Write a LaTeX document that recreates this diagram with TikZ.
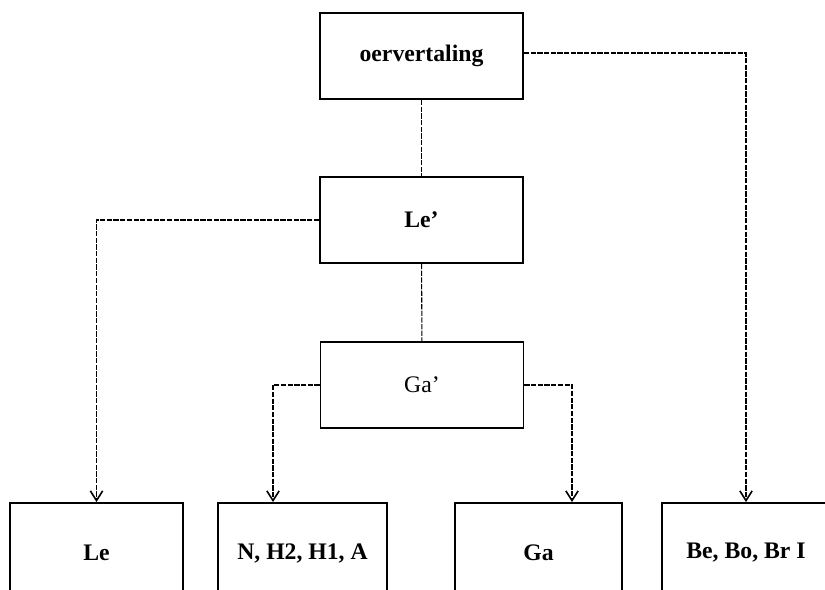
\documentclass[tikz,border=0pt]{standalone}
\usepackage{fontspec}
\setmainfont{Liberation Serif}
\usepackage{tikz}
\usetikzlibrary{arrows.meta}

\begin{document}
\begin{tikzpicture}[x=0.02cm,y=-0.02cm,
    >={Straight Barb[length=5.5pt,width=7pt,line width=0.9pt]},
    box/.style={draw,line width=1.1pt,minimum width=4.06cm,minimum height=1.72cm,
      font=\fontsize{13.5}{16}\selectfont\bfseries},
    leaf/.style={draw,line width=1.1pt,minimum height=2cm,
      font=\fontsize{13.5}{16}\selectfont\bfseries},
    link/.style={line width=0.6pt,dash pattern=on 3pt off 0.8pt}]
      \useasboundingbox (0,0) rectangle (825,590);
      \clip (0,0) rectangle (825,590);

      % upper boxes
      \node [box] (oer) at (421.5,56) {oervertaling};
      \node [box] (lep) at (421.5,220) {Le’};
      \node [box,font=\fontsize{13.5}{16}\selectfont] (gap) at (422,385) {Ga’};

      % lower boxes, cut off at the bottom edge
      \node [leaf,minimum width=3.46cm] (le) at (96.5,553) {Le};
      \node [leaf,minimum width=3.38cm] (nha) at (302.5,553) {N, H2, H1, A};
      \node [leaf,minimum width=3.34cm] (ga) at (538.5,553) {Ga};
      \node [leaf,minimum width=3.36cm] (bbb) at (746,553) {Be, Bo, Br I};

      \draw [link] (oer) -- (lep);
      \draw [link] (lep) -- (gap);
      \draw [link,->] (lep.west) -| (le.north);
      \draw [link,->] (gap.west) -| ([xshift=-0.59cm]nha.north);
      \draw [link,->] (gap.east) -| ([xshift=0.67cm]ga.north);
      \draw [link,->] ([yshift=0.06cm]oer.east) -| (bbb.north);
  \end{tikzpicture}
\end{document}
